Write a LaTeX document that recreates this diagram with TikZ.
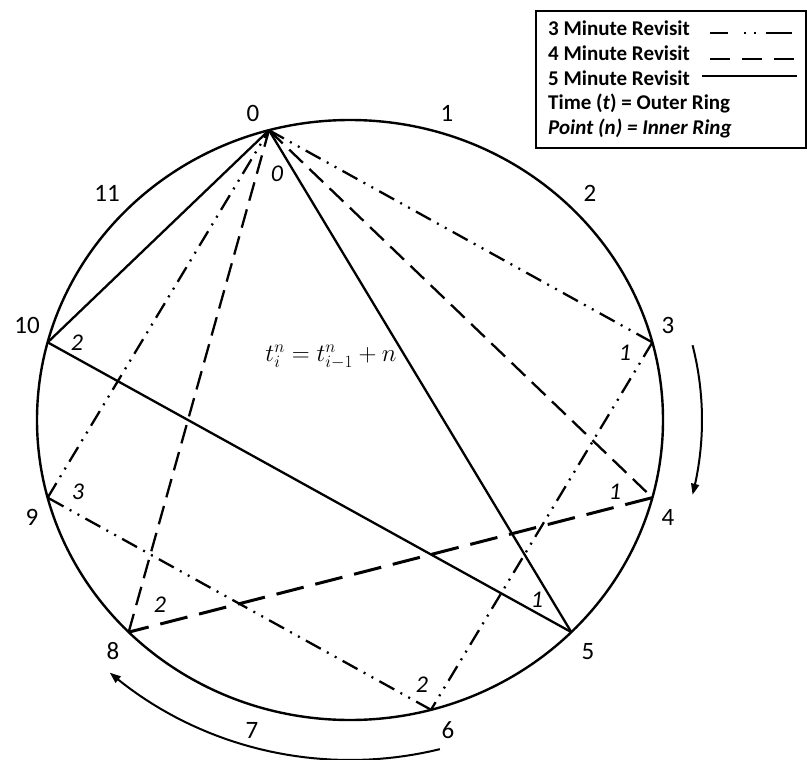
\documentclass[tikz,border=0pt]{standalone}
\usepackage{fontspec}
\setmainfont{Carlito}
\usetikzlibrary{arrows.meta}
\begin{document}
\begin{tikzpicture}[x=1pt,y=-1pt,
  ring/.style={line width=2.4pt},
  five/.style={line width=2.3pt},
  four/.style={line width=2.3pt, dash pattern=on 19pt off 9pt},
  fourthick/.style={line width=3pt, dash pattern=on 28pt off 12pt},
  three/.style={line width=2.3pt, dash pattern=on 17pt off 7pt on 2pt off 7pt on 2pt off 7pt},
  outer/.style={font=\fontsize{25}{30}\selectfont, inner sep=0pt},
  inner/.style={font=\fontsize{24}{28}\selectfont\itshape, inner sep=0pt},
  legtext/.style={font=\fontsize{21}{24}\selectfont\bfseries, anchor=west, inner sep=0pt},
  turn/.style={line width=2pt, -{Triangle[length=11pt,width=8pt]}}
]
\useasboundingbox (0,0) rectangle (807,760);
\draw[ring] (350,420) ellipse [x radius=313pt, y radius=300pt];
\foreach \k in {0,...,11}
  \coordinate (p\k) at ({350+313*cos(-105+30*\k)},{420+300*sin(-105+30*\k)});
% 5 minute revisit
\draw[five] (p0) -- (p5);
\draw[five] (p5) -- (p10);
\draw[five] (p10) -- (p0);
% 4 minute revisit
\draw[four] (p0) -- (p4);
\draw[fourthick] (p4) -- (p8);
\draw[four] (p8) -- (p0);
% 3 minute revisit
\draw[three] (p0) -- (p3);
\draw[three] (p3) -- (p6);
\draw[three] (p6) -- (p9);
\draw[three] (p9) -- (p0);
% outer ring labels
\node[outer] (l0) at (253,113) {0};
\node[outer] (l1) at (447,113) {1};
\node[outer] (l2) at (590,193) {2};
\node[outer] (l3) at (668,325) {3};
\node[outer] (l4) at (668,517) {4};
\node[outer] (l5) at (588,652) {5};
\node[outer] (l6) at (448,730) {6};
\node[outer] (l7) at (252,730) {7};
\node[outer] (l8) at (113,651) {8};
\node[outer] (l9) at (32,517) {9};
\node[outer] (l10) at (27,325) {10};
\node[outer] (l11) at (107,193) {11};
% inner ring labels
\node[inner] (i0) at (277,174) {0};
\node[inner] (i3) at (625,353) {1};
\node[inner] (i4) at (615,492) {1};
\node[inner] (i5) at (537,600) {1};
\node[inner] (i6) at (422,685) {2};
\node[inner] (i8) at (160,605) {2};
\node[inner] (i9) at (78,492) {3};
\node[inner] (i10) at (77,343) {2};
% equation
\node[inner sep=0pt, font=\fontsize{26}{30}\selectfont] (eq) at (331,357) {$t_i^n = t_{i-1}^n + n$};
% rotation arrows
\draw[turn] plot[domain=-13.3:13.3, samples=40] ({350+352*cos(\x)},{420+325*sin(\x)});
\draw[turn] plot[domain=75.5:132, samples=40] ({350+359*cos(\x)},{420+340*sin(\x)});
% legend
\node[draw, line width=2pt, minimum width=270pt, minimum height=137pt, anchor=north west, inner sep=0pt] (legend) at (535,10) {};
\node[legtext] (r1) at (548,28.5) {3 Minute Revisit};
\node[legtext] (r2) at (548,53.5) {4 Minute Revisit};
\node[legtext] (r3) at (548,78.5) {5 Minute Revisit};
\node[legtext] (r4) at (548,103.5) {Time (\textit{t}) = Outer Ring};
\node[legtext] (r5) at (548,128.5) {\itshape Point (n) = Inner Ring};
\coordinate (s1a) at (710,33); \coordinate (s1b) at (792,33);
\coordinate (s2a) at (710,59); \coordinate (s2b) at (797,59);
\coordinate (s3a) at (702,76); \coordinate (s3b) at (797,76);
\draw[line width=2.4pt, dash pattern=on 18pt off 16pt on 2pt off 8pt on 2pt off 10pt on 30pt] (s1a) -- (s1b);
\draw[line width=2.4pt, dash pattern=on 20pt off 12pt] (s2a) -- (s2b);
\draw[line width=2.2pt] (s3a) -- (s3b);
\end{tikzpicture}
\end{document}
